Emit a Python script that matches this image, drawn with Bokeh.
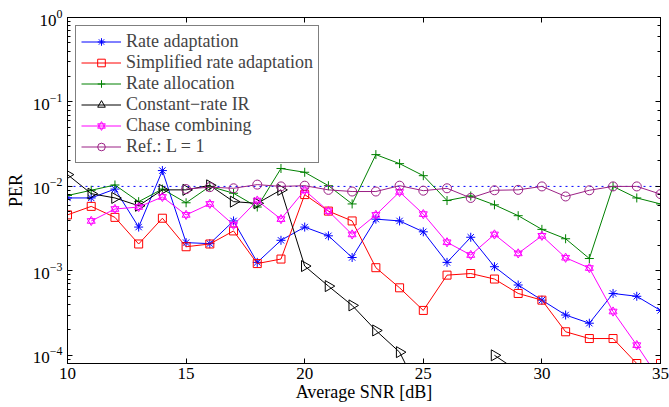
import numpy as np
from bokeh.plotting import figure
from bokeh.models import LinearAxis, LogAxis, Range1d, FixedTicker, Legend, LegendItem, LogTicker
from bokeh.embed import file_html
from bokeh.resources import INLINE

nan = float("nan")
snr = list(range(10, 36))
rate_adaptation = [7.3e-3, 7.3e-3, 9.3e-3, 3.3e-3, 1.54e-2, 2.16e-3, 2.1e-3, 3.9e-3, 1.26e-3,
                   2.3e-3, 3.3e-3, 2.6e-3, 1.44e-3, 4.1e-3, 3.9e-3, 2.9e-3, 1.26e-3,
                   2.5e-3, 1.12e-3, 6.8e-4, 4.5e-4, 3.0e-4, 2.4e-4, 5.4e-4, 5.0e-4, 3.4e-4]
simplified_rate_adaptation = [4.6e-3, 5.8e-3, 4.3e-3, 2.08e-3, 4.2e-3, 1.93e-3, 2.08e-3, 2.97e-3, 1.22e-3,
                              1.38e-3, 8.0e-3, 5.1e-3, 3.9e-3, 1.09e-3, 6.3e-4, 3.4e-4, 8.9e-4,
                              9.3e-4, 8.0e-4, 5.4e-4, 4.5e-4, 1.9e-4, 1.58e-4, 1.58e-4, 8.0e-5, 8.0e-5]
rate_allocation = [7.8e-3, 9.0e-3, 1.04e-2, 6.6e-3, 9.3e-3, 6.4e-3, 1.0e-2, 8.3e-3, 5.7e-3,
                   1.63e-2, 1.47e-2, 1.02e-2, 6.2e-3, 2.38e-2, 1.86e-2, 1.34e-2, 6.8e-3,
                   7.7e-3, 6.05e-3, 4.5e-3, 3.1e-3, 2.4e-3, 1.4e-3, 1.0e-2, 7.3e-3, 6.2e-3]
constant_rate_ir = [1.38e-2, 8.2e-3, 7.3e-3, 5.9e-3, 9.1e-3, 9.1e-3, 1.03e-2, 6.6e-3, 6.3e-3,
                    9.1e-3, 1.14e-3, 6.6e-4, 3.9e-4, 1.97e-4, 1.09e-4, 3.0e-5, nan,
                    nan, 1.0e-4, 6.5e-5, nan, nan, nan, nan, nan, nan]
chase_combining = [nan, 3.9e-3, 5.4e-3, 5.7e-3, 7.5e-3, 4.6e-3, 6.2e-3, 3.5e-3, 6.8e-3,
                   4.1e-3, 9.0e-3, 5.1e-3, 2.7e-3, 4.6e-3, 8.6e-3, 4.7e-3, 2.18e-3,
                   1.54e-3, 2.7e-3, 1.61e-3, 2.6e-3, 1.43e-3, 1.08e-3, 3.3e-4, 1.32e-4, 5.0e-5]
ref_l1 = [nan, nan, nan, nan, nan, 9.3e-3, 9.8e-3, 9.5e-3, 1.05e-2,
          1.0e-2, 1.02e-2, 9.1e-3, 8.7e-3, 8.7e-3, 1.02e-2, 8.9e-3, 9.5e-3,
          7.3e-3, 9.0e-3, 9.1e-3, 1.0e-2, 7.6e-3, 9.0e-3, 1.0e-2, 1.0e-2, 8.1e-3]
target_snr = [10, 35]
target_per = [1e-2, 1e-2]
x_ticks = [10, 15, 20, 25, 30, 35]

FONT = "Liberation Serif"
PURPLE = "#9B2085"

p = figure(width=669, height=407, y_axis_type="log", x_range=Range1d(10, 35),
           y_range=Range1d(8e-5, 1), output_backend="svg", toolbar_location=None,
           min_border_left=67, min_border_right=9, min_border_top=17, min_border_bottom=44)
p.background_fill_color = "white"
p.border_fill_color = "white"
p.grid.visible = False
p.outline_line_color = "black"
p.outline_line_width = 1

# reference dotted line
p.line(target_snr, target_per, line_color="blue", line_dash="2 4", line_width=1)

items = []
r1 = p.line(snr, rate_adaptation, line_color="blue", line_width=1)
r1m = p.scatter(snr, rate_adaptation, marker="asterisk", size=9, line_color="blue", line_width=1)
items.append(LegendItem(label="Rate adaptation", renderers=[r1, r1m]))

r2 = p.line(snr, simplified_rate_adaptation, line_color="red", line_width=1)
r2m = p.scatter(snr, simplified_rate_adaptation, marker="square", size=8, line_color="red",
                fill_color=None, line_width=1)
items.append(LegendItem(label="Simplified rate adaptation", renderers=[r2, r2m]))

r3 = p.line(snr, rate_allocation, line_color="#008000", line_width=1)
r3m = p.scatter(snr, rate_allocation, marker="cross", size=9, line_color="#008000", line_width=1)
items.append(LegendItem(label="Rate allocation", renderers=[r3, r3m]))

r4 = p.line(snr, constant_rate_ir, line_color="black", line_width=1)
r4m = p.scatter(snr, constant_rate_ir, marker="triangle", size=11, angle=-np.pi / 2,
                line_color="black", fill_color=None, line_width=1)
items.append(LegendItem(label="Constant\u2212rate IR", renderers=[r4, r4m]))

r5 = p.line(snr, chase_combining, line_color="magenta", line_width=1)
r5a = p.scatter(snr, chase_combining, marker="triangle", size=8, line_color="magenta",
                fill_color=None, line_width=1)
r5b = p.scatter(snr, chase_combining, marker="inverted_triangle", size=8, line_color="magenta",
                fill_color=None, line_width=1)
items.append(LegendItem(label="Chase combining", renderers=[r5, r5a, r5b]))

r6 = p.line(snr, ref_l1, line_color=PURPLE, line_width=1)
r6m = p.scatter(snr, ref_l1, marker="circle", size=9, line_color=PURPLE,
                fill_color=None, line_width=1)
items.append(LegendItem(label="Ref.: L = 1", renderers=[r6, r6m]))

legend = Legend(items=items, location="top_left")
legend.label_text_font = FONT
legend.label_text_font_size = "18px"
legend.glyph_width = 40
legend.glyph_height = 19
legend.label_height = 19
legend.label_standoff = 5
legend.spacing = 0
legend.padding = 5
legend.margin = 8
legend.border_line_color = "black"
legend.border_line_width = 1
legend.background_fill_alpha = 1
p.add_layout(legend)

# axes styling
for ax in [p.xaxis[0], p.yaxis[0]]:
    ax.major_tick_in = 5
    ax.major_tick_out = 0
    ax.minor_tick_in = 3
    ax.minor_tick_out = 0
    ax.major_label_text_font = FONT
    ax.major_label_text_font_size = "17px"
    ax.major_label_text_color = "black"
    ax.axis_label_text_font = FONT
    ax.axis_label_text_font_size = "18px"
    ax.axis_label_text_font_style = "normal"
    ax.axis_label_text_color = "black"
    ax.axis_line_color = "black"
    ax.major_tick_line_color = "black"
    ax.minor_tick_line_color = "black"

p.xaxis[0].ticker = FixedTicker(ticks=x_ticks)
p.xaxis[0].axis_label = "Average SNR [dB]"
p.xaxis[0].major_label_standoff = 4
p.xaxis[0].axis_label_standoff = 0
p.yaxis[0].axis_label = "PER"
p.yaxis[0].major_label_standoff = 5
p.yaxis[0].axis_label_standoff = 4

top = LinearAxis(ticker=FixedTicker(ticks=x_ticks), major_label_text_alpha=0,
                 major_label_text_font_size="2px",
                 major_tick_in=5, major_tick_out=0, minor_tick_in=0, minor_tick_out=0,
                 major_label_standoff=0)
p.add_layout(top, "above")
right = LogAxis(ticker=LogTicker(), major_label_text_alpha=0,
                major_label_text_font_size="2px",
                major_tick_in=5, major_tick_out=0, minor_tick_in=3, minor_tick_out=0,
                major_label_standoff=0)
p.add_layout(right, "right")

open("out.html", "w").write(file_html(p, INLINE))
